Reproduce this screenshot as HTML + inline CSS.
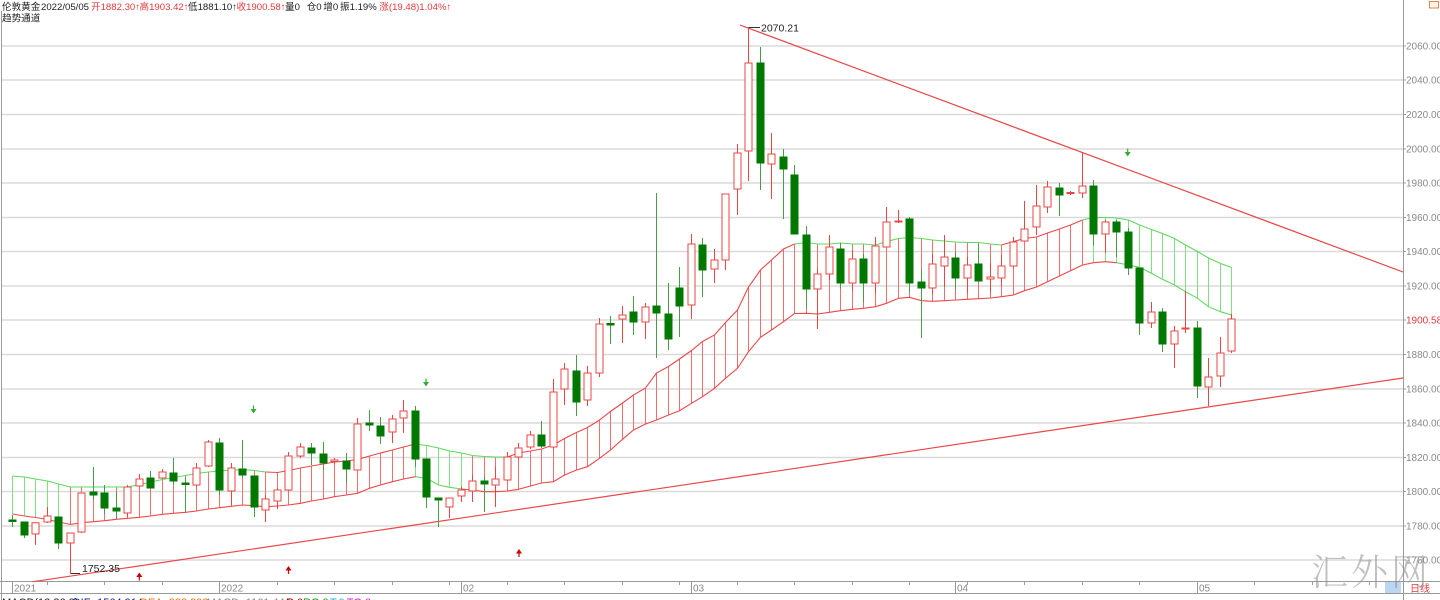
<!DOCTYPE html>
<html><head><meta charset="utf-8"><style>
html,body{margin:0;padding:0;background:#fff;}
body{width:1440px;height:600px;overflow:hidden;}
svg{display:block;}
text{font-family:"Liberation Sans","Noto Sans CJK SC",sans-serif;}
</style></head><body>
<svg width="1440" height="600" viewBox="0 0 1440 600" xmlns="http://www.w3.org/2000/svg">
<rect width="1440" height="600" fill="#fff"/>
<!-- grid -->
<g stroke="#dadada" stroke-width="1.6">
<path d="M2 46H1403M2 80H1403M2 114.5H1403M2 149H1403M2 183H1403M2 217.5H1403M2 251.5H1403M2 286H1403M2 320H1403M2 354.5H1403M2 389H1403M2 423H1403M2 457.5H1403M2 491.5H1403M2 526H1403M2 560H1403"/>
</g>
<!-- borders / axes -->
<g stroke="#9a9a9a" stroke-width="1" fill="none">
<path d="M1.5 11V600"/>
<path d="M1403.5 0V600"/>
<path d="M0 581.5H1440M0 593.5H1440"/>
<path d="M1403.5 46H1406M1403.5 80H1406M1403.5 114.5H1406M1403.5 149H1406M1403.5 183H1406M1403.5 217.5H1406M1403.5 251.5H1406M1403.5 286H1406M1403.5 320H1406M1403.5 354.5H1406M1403.5 389H1406M1403.5 423H1406M1403.5 457.5H1406M1403.5 491.5H1406M1403.5 526H1406M1403.5 560H1406"/>
<path d="M47.5 582V585M104.5 582V585M162.5 582V585M277.5 582V585M334.5 582V585M392.5 582V585M449.5 582V585M507.5 582V585M564.5 582V585M622.5 582V585M679.5 582V585M737.5 582V585M794.5 582V585M852.5 582V585M909.5 582V585M967.5 582V585M1024.5 582V585M1082.5 582V585M1139.5 582V585M1254.5 582V585M1312.5 582V585M1369.5 582V585"/>
<path d="M12.5 582V593M219.5 582V593M461.5 582V593M691.5 582V593M955.5 582V593M1197.5 582V593"/>
</g>
<!-- hatches -->
<path fill="none" stroke="#f07070" stroke-width="1" d="M70.5 487V524.5M81.5 487V522.7M93.5 487V521.7M104.5 487V520.7M116.5 487V519.3M127.5 487V518.3M139.5 484.5V517.3M150.5 482V516M162.5 479.5V514.3M173.5 477.5V513.3M185.5 475.5V512.3M196.5 473.5V511M208.5 472V509M219.5 471V507.7M231.5 470V506.3M242.5 469.7V505M254.5 470.5V505.7M265.5 472V506.7M277.5 472.5V506M288.5 470.5V505M300.5 468V503.3M311.5 466V501M323.5 464V499M334.5 462V496.7M346.5 461V495M357.5 459.5V493.3M369.5 456V488.3M380.5 453V485M392.5 450V481.7M403.5 447V479M472.5 455.5V490M484.5 456.5V491.7M495.5 457V491.7M507.5 457V491M518.5 453V489.3M530.5 451V486M541.5 449V483M553.5 445V481.7M564.5 438.5V475M576.5 432.5V470M587.5 427.5V466.7M599.5 420V458.3M610.5 411.5V450M622.5 403V439.3M633.5 395V430M645.5 388V424M656.5 373V420M668.5 366.5V415M679.5 359V410.7M691.5 350.5V403.3M702.5 341.5V396.7M714.5 335V388.3M725.5 322.5V378.3M737.5 310V368.3M748.5 287V351.7M760.5 270V337.3M771.5 260V330M783.5 249V321.7M794.5 244V313.5M806.5 242.5V313.3M817.5 244V314M829.5 244V312.3M840.5 243V310.7M852.5 244V309.3M863.5 244V308.3M875.5 245V306.7M886.5 241.5V303.3M898.5 238.5V298.3M909.5 237.5V297.3M921.5 238.5V300.7M932.5 240V301.3M944.5 241V300.7M955.5 242V300M967.5 242.5V299.3M978.5 242.5V298.7M990.5 244V298M1001.5 245V296.7M1013.5 241.5V295M1024.5 238.5V290.7M1036.5 237V287M1047.5 233V281.7M1059.5 229V276M1070.5 225V270.7M1082.5 220V265"/>
<path fill="none" stroke="#7ee07e" stroke-width="1" d="M12.5 476V514M24.5 477V516M35.5 479V517.5M47.5 481V519.5M58.5 484V522M415.5 444V476.7M426.5 445.5V478.3M438.5 448V485M449.5 451V487.3M461.5 453V489M1093.5 217.5V262.7M1105.5 217.5V261.7M1116.5 218V262.7M1128.5 220V265M1139.5 225V267.3M1151.5 229.5V273.3M1162.5 233.5V279.3M1174.5 238.5V285M1185.5 245V291.7M1197.5 251.5V298.3M1208.5 258V306.7M1220.5 263.5V311.7M1231.5 267.5V315"/>
<!-- band lines -->
<g fill="none" stroke-width="1.1">
<polyline stroke="#5fd85f" points="12.5,476 24.5,477 35.5,479 47.5,481 58.5,484 70.5,487 81.5,487 93.5,487 104.5,487 116.5,487 127.5,487 139.5,484.5 150.5,482 162.5,479.5 173.5,477.5 185.5,475.5 196.5,473.5 208.5,472 219.5,471 231.5,470 242.5,469.7 254.5,470.5 265.5,472"/>
<polyline stroke="#ec4848" points="265.5,472 277.5,472.5 288.5,470.5 300.5,468 311.5,466 323.5,464 334.5,462 346.5,461 357.5,459.5 369.5,456 380.5,453 392.5,450 403.5,447 415.5,444"/>
<polyline stroke="#5fd85f" points="415.5,444 426.5,445.5 438.5,448 449.5,451 461.5,453 472.5,455.5 484.5,456.5 495.5,457 507.5,457"/>
<polyline stroke="#ec4848" points="507.5,457 518.5,453 530.5,451 541.5,449 553.5,445 564.5,438.5 576.5,432.5 587.5,427.5 599.5,420 610.5,411.5 622.5,403 633.5,395 645.5,388 656.5,373 668.5,366.5 679.5,359 691.5,350.5 702.5,341.5 714.5,335 725.5,322.5 737.5,310 748.5,287 760.5,270 771.5,260 783.5,249 794.5,244"/>
<polyline stroke="#5fd85f" points="794.5,244 806.5,242.5 817.5,244 829.5,244 840.5,243 852.5,244 863.5,244 875.5,245 886.5,241.5 898.5,238.5 909.5,237.5 921.5,238.5 932.5,240 944.5,241 955.5,242 967.5,242.5 978.5,242.5 990.5,244 1001.5,245"/>
<polyline stroke="#ec4848" points="1001.5,245 1013.5,241.5 1024.5,238.5 1036.5,237 1047.5,233 1059.5,229 1070.5,225 1082.5,220"/>
<polyline stroke="#5fd85f" points="1082.5,220 1093.5,217.5 1105.5,217.5 1116.5,218 1128.5,220 1139.5,225 1151.5,229.5 1162.5,233.5 1174.5,238.5 1185.5,245 1197.5,251.5 1208.5,258 1220.5,263.5 1231.5,267.5"/>
<polyline stroke="#ec4848" points="12.5,514 24.5,516 35.5,517.5 47.5,519.5 58.5,522 70.5,524.5 81.5,522.7 93.5,521.7 104.5,520.7 116.5,519.3 127.5,518.3 139.5,517.3 150.5,516 162.5,514.3 173.5,513.3 185.5,512.3 196.5,511 208.5,509 219.5,507.7 231.5,506.3 242.5,505 254.5,505.7 265.5,506.7 277.5,506 288.5,505 300.5,503.3 311.5,501 323.5,499 334.5,496.7 346.5,495 357.5,493.3 369.5,488.3 380.5,485 392.5,481.7 403.5,479 415.5,476.7"/>
<polyline stroke="#5fd85f" points="415.5,476.7 426.5,478.3 438.5,485 449.5,487.3 461.5,489"/>
<polyline stroke="#ec4848" points="461.5,489 472.5,490 484.5,491.7 495.5,491.7 507.5,491 518.5,489.3 530.5,486 541.5,483 553.5,481.7 564.5,475 576.5,470 587.5,466.7 599.5,458.3 610.5,450 622.5,439.3 633.5,430 645.5,424 656.5,420 668.5,415 679.5,410.7 691.5,403.3 702.5,396.7 714.5,388.3 725.5,378.3 737.5,368.3 748.5,351.7 760.5,337.3 771.5,330 783.5,321.7 794.5,313.5 806.5,313.3 817.5,314 829.5,312.3 840.5,310.7 852.5,309.3 863.5,308.3 875.5,306.7 886.5,303.3 898.5,298.3 909.5,297.3 921.5,300.7 932.5,301.3 944.5,300.7 955.5,300 967.5,299.3 978.5,298.7 990.5,298 1001.5,296.7 1013.5,295 1024.5,290.7 1036.5,287 1047.5,281.7 1059.5,276 1070.5,270.7 1082.5,265 1093.5,262.7 1105.5,261.7 1116.5,262.7"/>
<polyline stroke="#5fd85f" points="1116.5,262.7 1128.5,265 1139.5,267.3 1151.5,273.3 1162.5,279.3 1174.5,285 1185.5,291.7 1197.5,298.3 1208.5,306.7 1220.5,311.7 1231.5,315"/>
</g>
<!-- trend lines -->
<g stroke="#e84848" stroke-width="1.2" fill="none">
<path d="M740 25L1403 272"/>
<path d="M33 581.7L1403 378"/>
</g>
<!-- candles: wicks -->
<path fill="none" stroke="#e94545" stroke-width="1" d="M35.5 522.7V545M47.5 507V523M70.5 533V573.5M81.5 493V533M127.5 485V517M139.5 474V487M162.5 469V479M196.5 463V487M208.5 440V467M231.5 463V505M265.5 495V522M277.5 488V509M288.5 452V491M300.5 443V458M334.5 458V464M357.5 418V470M392.5 415V443M403.5 400V433M449.5 498V518M461.5 487V502M472.5 475V502M495.5 467V507M507.5 452V481M518.5 443V459M530.5 431V449M553.5 379V449M564.5 363V405M587.5 366V406M599.5 318V377M622.5 306V343M645.5 303V339M691.5 234V319M714.5 249V283M725.5 194V270M737.5 144V215M748.5 27.5V181M771.5 133V199M817.5 269V329M829.5 235V280M852.5 250V290M875.5 237V294M886.5 207V247M898.5 210V223M932.5 254V294M944.5 235V287M967.5 257V293M990.5 263V293M1001.5 255V286M1013.5 237V268M1024.5 201V241M1036.5 185V235M1047.5 181V213M1070.5 191V195M1082.5 152V198M1105.5 220V253M1151.5 302V328M1174.5 326V368M1185.5 291V333M1208.5 358V406M1220.5 337V387M1231.5 314V353"/>
<path fill="none" stroke="#4a9a4a" stroke-width="1" d="M12.5 515V527M24.5 522V538M58.5 517V549M93.5 467V500M104.5 485V514M116.5 492V519M150.5 471V488M173.5 458V485M185.5 478V512M219.5 438V495M242.5 440V478M254.5 476V517M311.5 443V465M323.5 442V470M346.5 453V483M369.5 410V431M380.5 417V444M415.5 406V467M426.5 459V508M438.5 498V527M484.5 476V512M541.5 421V448M576.5 355V416M610.5 316V344M633.5 296V335M656.5 193V358M668.5 283V350M679.5 267V337M702.5 238V297M760.5 47V190M783.5 149V219M794.5 165V234M806.5 226V309M840.5 243V289M863.5 254V302M909.5 217V292M921.5 270V338M955.5 252V290M978.5 244V281M1059.5 183V216M1093.5 180V245M1116.5 220V257M1128.5 228V275M1139.5 268V335M1162.5 308V352M1197.5 321V398"/>
<!-- candles: bodies -->
<path fill="#fff" stroke="#e94545" stroke-width="1" d="M32 522.7H39V534H32ZM44 516H51V522H44ZM67 533H74V543H67ZM78 493H85V532H78ZM124 487H131V513H124ZM136 479H143V486H136ZM159 472H166V478H159ZM193 468H200V485H193ZM205 442H212V466H205ZM228 468H235V491H228ZM262 499H269V510H262ZM274 490H281V501H274ZM285 456H292V490H285ZM297 447H304V456H297ZM331 460H338V461.5H331ZM354 424H361V470H354ZM389 419H396V432H389ZM400 411H407V418H400ZM446 498H453V507H446ZM458 490H465V496H458ZM469 481H476V491H469ZM492 479H499V485H492ZM504 457H511V480H504ZM515 448H522V457H515ZM527 435H534V447H527ZM550 392H557V447H550ZM561 369H568V389H561ZM584 373H591V400H584ZM596 324H603V373H596ZM619 315H626V319H619ZM642 307H649V322H642ZM688 244H695V305H688ZM711 260H718V269H711ZM722 194H729V260H722ZM734 153H741V189H734ZM745 63H752V151H745ZM768 154H775V164H768ZM814 274H821V289H814ZM826 247H833V274H826ZM849 259H856V283H849ZM872 246H879V283H872ZM883 222H890V247H883ZM895 221H902V222H895ZM929 264H936V288H929ZM941 257H948V266H941ZM964 265H971V278H964ZM987 277H994V279H987ZM998 266H1005V278H998ZM1010 242H1017V266H1010ZM1021 229H1028V241H1021ZM1033 206H1040V227H1033ZM1044 187H1051V207H1044ZM1067 192.5H1074V193.5H1067ZM1079 186H1086V193H1079ZM1102 222H1109V234H1102ZM1148 312H1155V323H1148ZM1171 331H1178V344H1171ZM1182 328H1189V329H1182ZM1205 377H1212V387H1205ZM1217 353H1224V376H1217ZM1228 319H1235V351H1228Z"/>
<path fill="#007800" stroke="#007800" stroke-width="1" d="M9 520H16V521.5H9ZM21 522H28V535H21ZM55 517H62V543H55ZM90 492H97V495H90ZM101 493H108V508H101ZM113 508H120V511H113ZM147 478H154V488H147ZM170 473H177V481H170ZM182 483H189V484.5H182ZM216 443H223V490H216ZM239 469H246V475H239ZM251 476H258V507H251ZM308 448H315V453H308ZM320 454H327V463H320ZM343 461H350V469H343ZM366 423H373V425H366ZM377 426H384V436H377ZM412 411H419V459H412ZM423 459H430V497H423ZM435 498H442V500H435ZM481 481H488V484H481ZM538 435H545V446H538ZM573 371H580V402H573ZM607 323.5H614V325H607ZM630 312H637V322H630ZM653 306H660V313H653ZM665 314H672V339H665ZM676 288H683V306H676ZM699 245H706V270H699ZM757 63H764V163H757ZM780 157H787V169H780ZM791 175H798V234H791ZM803 235H810V289H803ZM837 249H844V283H837ZM860 259H867V283H860ZM906 219H913V283H906ZM918 282H925V288H918ZM952 258H959V278H952ZM975 264H982V281H975ZM1056 188H1063V195H1056ZM1090 186H1097V234H1090ZM1113 222H1120V232H1113ZM1125 232H1132V268H1125ZM1136 268H1143V323H1136ZM1159 312H1166V344H1159ZM1194 328H1201V386H1194Z"/>
<!-- arrows -->
<g fill="#33aa33" stroke="#33aa33" stroke-width="1.2">
<path d="M253.5 405.5V410"/><path stroke="none" d="M250.5 409H256.5L253.5 413.5Z"/>
<path d="M426 378.5V383"/><path stroke="none" d="M423 382H429L426 386.5Z"/>
<path d="M1127.7 148.5V153"/><path stroke="none" d="M1124.7 152H1130.7L1127.7 156.5Z"/>
</g>
<g fill="#c80000" stroke="#c80000" stroke-width="1.2">
<path d="M139.3 576V580.5"/><path stroke="none" d="M136.3 577H142.3L139.3 572.5Z"/>
<path d="M288.5 569.5V574"/><path stroke="none" d="M285.5 570.5H291.5L288.5 566Z"/>
<path d="M519 552.5V557"/><path stroke="none" d="M516 553.5H522L519 549Z"/>
</g>
<!-- extreme labels -->
<path d="M70.5 573.5H80M748.5 27.5H760" stroke="#333" stroke-width="1"/>
<text x="82" y="572" font-size="10.5" fill="#222">1752.35</text>
<text x="761" y="31.5" font-size="10.5" fill="#222">2070.21</text>
<!-- y labels -->
<g font-size="10" fill="#8a8a8a">
<text x="1406" y="49.5">2060.00</text>
<text x="1406" y="83.5">2040.00</text>
<text x="1406" y="118">2020.00</text>
<text x="1406" y="152.5">2000.00</text>
<text x="1406" y="186.5">1980.00</text>
<text x="1406" y="221">1960.00</text>
<text x="1406" y="255">1940.00</text>
<text x="1406" y="289.5">1920.00</text>
<text x="1406" y="358">1880.00</text>
<text x="1406" y="392.5">1860.00</text>
<text x="1406" y="426.5">1840.00</text>
<text x="1406" y="461">1820.00</text>
<text x="1406" y="495">1800.00</text>
<text x="1406" y="529.5">1780.00</text>
<text x="1406" y="563.5">1760.00</text>
</g>
<text x="1406" y="323.5" font-size="10" fill="#e33b3b">1900.58</text>
<rect x="1429.5" y="1.5" width="9" height="6.5" fill="#fdf3ea" stroke="#d9874a" stroke-width="1"/>
<!-- x labels -->
<g font-size="10" fill="#8a8a8a">
<text x="14" y="591.5">2021</text>
<text x="221" y="591.5">2022</text>
<text x="463" y="591.5">02</text>
<text x="693" y="591.5">03</text>
<text x="957" y="591.5">04</text>
<text x="1199" y="591.5">05</text>
</g>
<rect x="1385" y="582" width="16" height="11" fill="#bcd6f2"/>
<text x="1410" y="592" font-size="10" fill="#e03c3c">日线</text>
<!-- watermark -->
<text x="1311" y="585" font-size="37" letter-spacing="3" fill="#8c8c8c" fill-opacity="0.55" style="font-family:'Noto Serif CJK SC','Noto Sans CJK SC',serif;font-weight:300">汇外网</text>
<!-- header -->
<g font-size="9.6" fill="#222">
<text y="10"><tspan x="2">伦敦黄金</tspan><tspan x="41">2022/05/05</tspan></text>
<text y="10" fill="#e33b3b"><tspan x="91">开1882.30↑</tspan><tspan x="139.5">高1903.42↑</tspan></text>
<text y="10"><tspan x="188">低1881.10↑</tspan></text>
<text y="10" fill="#e33b3b"><tspan x="236.5">收1900.58↑</tspan></text>
<text y="10"><tspan x="285">量0</tspan><tspan x="306.7">仓0</tspan><tspan x="323.3">增0</tspan><tspan x="340">振1.19%</tspan></text>
<text y="10" fill="#e33b3b"><tspan x="379.3">涨(19.48)1.04%↑</tspan></text>
<text x="2" y="21.5">趋势通道</text>
</g>
<!-- bottom indicator row (cut off) -->
<g font-size="11">
<text x="2" y="606" fill="#222">MACD(12,26,9)</text>
<text x="72.7" y="606" fill="#1a1a8a">DIF -1564.914↑</text>
<text x="140" y="606" fill="#e07a10">DEA -983.393↓</text>
<text x="206.7" y="606" fill="#888">MACD -1161.444↓</text>
<text x="286" y="606" fill="#a00000">R:0</text>
<text x="303" y="606" fill="#209020">RG:0</text>
<text x="330" y="606" fill="#20b0d0">T:0</text>
<text x="346.7" y="606" fill="#d020d0">TG:0</text>
</g>
</svg>
</body></html>
